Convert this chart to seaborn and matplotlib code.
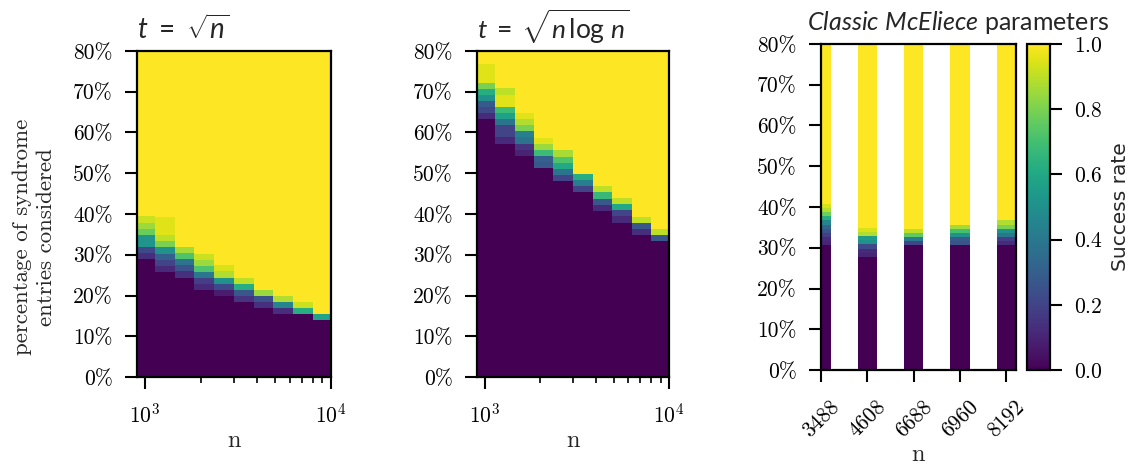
import numpy as np
import matplotlib
matplotlib.use("Agg")
import matplotlib.pyplot as plt
import seaborn as sns
from matplotlib.ticker import PercentFormatter, MultipleLocator, FixedLocator

# column edges in n, both sweeps use the same n grid
n_edges = [906, 1132, 1449, 1841, 2358, 3008, 3855, 4900, 6266, 7962, 10000]

# t = sqrt(n): where the success rate starts rising (% of syndrome entries),
# then the rate of each 1.5% row going up, full success above
sqrt_start = [28.9, 25.8, 24.4, 21.3, 19.9, 18.4, 16.9, 15.4, 15.4, 13.9]
sqrt_rows = [
    [0.13, 0.22, 0.52, 0.52, 0.77, 0.85, 0.92],
    [0.12, 0.2, 0.3, 0.5, 0.8, 0.9, 0.95, 0.95, 0.95],
    [0.14, 0.25, 0.38, 0.72, 0.86],
    [0.12, 0.18, 0.4, 0.72, 0.85, 0.92],
    [0.08, 0.22, 0.5, 0.88, 0.94],
    [0.15, 0.27, 0.62, 0.9],
    [0.14, 0.25, 0.85],
    [0.13, 0.45, 0.88],
    [0.62, 0.92],
    [0.58],
]

# t = sqrt(n log n)
nlog_start = [63.2, 57.3, 54.3, 51.2, 48.1, 45.3, 40.8, 37.9, 34.8, 33.4]
nlog_rows = [
    [0.12, 0.22, 0.28, 0.5, 0.62, 0.8, 0.95, 0.95, 0.95],
    [0.12, 0.2, 0.2, 0.38, 0.57, 0.68, 0.95, 0.95, 0.9],
    [0.1, 0.15, 0.38, 0.43, 0.8, 0.88, 0.95],
    [0.28, 0.3, 0.68, 0.85, 0.95],
    [0.2, 0.38, 0.6, 0.72, 0.87],
    [0.2, 0.42, 0.62],
    [0.12, 0.27, 0.67, 0.9],
    [0.12, 0.2, 0.6, 0.9],
    [0.13, 0.27, 0.9],
    [0.27, 0.9],
]

# Classic McEliece parameter sets, 1% rows
mce_n = ["3488", "4608", "6688", "6960", "8192"]
mce_start = [30.7, 27.8, 30.7, 30.7, 30.7]
mce_rows = [
    [0.1, 0.12, 0.18, 0.25, 0.32, 0.45, 0.62, 0.78, 0.88, 0.94],
    [0.1, 0.12, 0.22, 0.5, 0.55, 0.88, 0.94],
    [0.2, 0.42, 0.75, 0.9],
    [0.25, 0.28, 0.5, 0.7, 0.86],
    [0.12, 0.18, 0.4, 0.5, 0.8, 0.88],
]

YMAX = 80

sns.set_style("ticks")
plt.rcParams["font.family"] = "cmr10"
plt.rcParams["mathtext.fontset"] = "cm"
plt.rcParams["mathtext.rm"] = "Lato"
plt.rcParams["mathtext.it"] = "Lato:italic"
plt.rcParams["axes.formatter.use_mathtext"] = True
plt.rcParams["axes.linewidth"] = 1.6
plt.rcParams["axes.edgecolor"] = "black"
for a in ["xtick", "ytick"]:
    plt.rcParams[a + ".major.size"] = 8.5
    plt.rcParams[a + ".minor.size"] = 4.5
    plt.rcParams[a + ".major.width"] = 1.5
    plt.rcParams[a + ".minor.width"] = 1.2
    plt.rcParams[a + ".major.pad"] = 9
    plt.rcParams[a + ".color"] = "black"
    plt.rcParams[a + ".labelsize"] = 15.5

cmap = sns.color_palette("viridis", as_cmap=True)


def column(ax, x0, x1, start, rows, step):
    ys = [0, start] + [start + step * (i + 1) for i in range(len(rows))] + [YMAX]
    vals = np.array([0] + list(rows) + [1.0])[:, None]
    return ax.pcolormesh([x0, x1], ys, vals, cmap=cmap, vmin=0, vmax=1)


fig = plt.figure(figsize=(11.31, 4.67), dpi=100)
W, H = 1131, 467
ax1 = fig.add_axes([137 / W, (467 - 377) / H, 194 / W, 326 / H])
ax2 = fig.add_axes([477 / W, (467 - 377) / H, 192 / W, 326 / H])
ax3 = fig.add_axes([821 / W, (467 - 370) / H, 195 / W, 326 / H])
cax = fig.add_axes([1027 / W, (467 - 370) / H, 23 / W, 326 / H])

for ax, starts, rows in [(ax1, sqrt_start, sqrt_rows), (ax2, nlog_start, nlog_rows)]:
    for i in range(len(starts)):
        column(ax, n_edges[i], n_edges[i + 1], starts[i], rows[i], 1.5)
    ax.set_xscale("log")
    ax.set_xlim(n_edges[0], n_edges[-1])
    ax.tick_params(axis="x", which="major", pad=10)
    ax.set_xlabel("n", fontsize=17.5, labelpad=2)

hw = 0.21
for i in range(len(mce_n)):
    mesh = column(ax3, i - hw, i + hw, mce_start[i], mce_rows[i], 1.0)
ax3.set_xlim(0, len(mce_n) - 1 + hw)
ax3.xaxis.set_major_locator(FixedLocator(range(len(mce_n))))
ax3.set_xticklabels(mce_n, rotation=45)
ax3.tick_params(axis="x", pad=11)
ax3.set_xlabel("n", fontsize=17.5, labelpad=2)

for ax in [ax1, ax2, ax3]:
    ax.set_ylim(0, YMAX)
    ax.yaxis.set_major_locator(MultipleLocator(10))
    ax.yaxis.set_major_formatter(PercentFormatter(100, decimals=0))
    for s in ax.spines.values():
        s.set_visible(True)

ax1.set_ylabel("percentage of syndrome\nentries considered", fontsize=16.5,
               linespacing=1.35)
ax1.yaxis.set_label_coords(-0.415, 0.43)

tkw = dict(loc="left", family="Lato", math_fontfamily="custom", pad=9)
ax1.set_title(r"$t\ =\ \sqrt{n}$", fontsize=20, **tkw)
ax2.set_title(r"$t\;=\;\sqrt{n\,\log\,n}$", fontsize=19, **tkw)
ax3.set_title(r"$\mathit{Classic\ McEliece}$ parameters", fontsize=18, family="Lato",
              math_fontfamily="custom", x=-0.07, ha="left", pad=10)

cb = fig.colorbar(mesh, cax=cax)
cb.outline.set_linewidth(1.6)
cb.set_ticks([0, 0.2, 0.4, 0.6, 0.8, 1.0])
cb.ax.tick_params(labelsize=15.5, pad=9)
cb.set_label("Success rate", family="DejaVu Sans", fontsize=14.5, labelpad=6)

fig.savefig("out.png", dpi=100)
